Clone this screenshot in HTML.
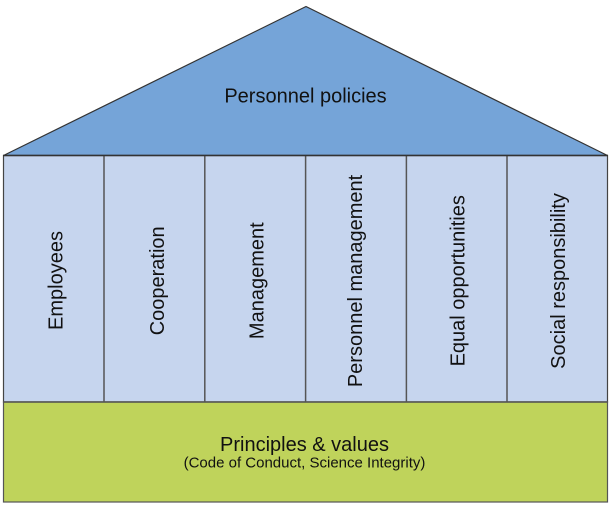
<!DOCTYPE html>
<html>
<head>
<meta charset="utf-8">
<style>
html,body{margin:0;padding:0;background:#fff;}
svg{display:block;}
text{font-family:"Liberation Sans",Arial,sans-serif;fill:#111;}
</style>
</head>
<body>
<svg width="615" height="512" viewBox="0 0 615 512" xmlns="http://www.w3.org/2000/svg">
  <rect x="0" y="0" width="615" height="512" fill="#ffffff"/>
  <!-- roof -->
  <polygon points="3.5,155.5 306,6.5 607.5,155.5" fill="#75a4d8" stroke="#333" stroke-width="1.2" stroke-linejoin="miter"/>
  <text x="305.5" y="102.7" font-size="20" text-anchor="middle">Personnel policies</text>
  <!-- columns -->
  <rect x="3.5" y="155.5" width="604" height="246.5" fill="#c6d5ee" stroke="#444" stroke-width="1.2"/>
  <g stroke="#555" stroke-width="1.5">
    <line x1="104" y1="155.5" x2="104" y2="402"/>
    <line x1="204.8" y1="155.5" x2="204.8" y2="402"/>
    <line x1="305.6" y1="155.5" x2="305.6" y2="402"/>
    <line x1="406.4" y1="155.5" x2="406.4" y2="402"/>
    <line x1="507" y1="155.5" x2="507" y2="402"/>
  </g>
  <line x1="3" y1="155.5" x2="608" y2="155.5" stroke="#333" stroke-width="1.5"/>
  <g font-size="20" text-anchor="middle">
    <text transform="translate(62.3,280.5) rotate(-90)">Employees</text>
    <text transform="translate(163.8,280.8) rotate(-90)">Cooperation</text>
    <text transform="translate(263.3,280.7) rotate(-90)">Management</text>
    <text transform="translate(362,281) rotate(-90)">Personnel management</text>
    <text transform="translate(464.3,280.8) rotate(-90)">Equal opportunities</text>
    <text transform="translate(565,281) rotate(-90)">Social responsibility</text>
  </g>
  <!-- foundation -->
  <rect x="3.5" y="402" width="604" height="100" fill="#bfd35b" stroke="#555" stroke-width="1.2"/>
  <line x1="3" y1="402" x2="608" y2="402" stroke="#555" stroke-width="1.5"/>
  <text x="304.5" y="451" font-size="20" text-anchor="middle">Principles &amp; values</text>
  <text x="304.5" y="467.7" font-size="15" text-anchor="middle">(Code of Conduct, Science Integrity)</text>
</svg>
</body>
</html>
